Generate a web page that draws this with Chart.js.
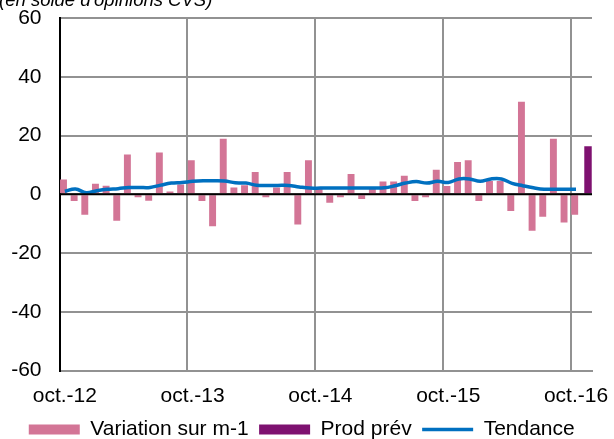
<!DOCTYPE html>
<html>
<head>
<meta charset="utf-8">
<script src="https://cdn.jsdelivr.net/npm/chart.js@4.4.1/dist/chart.umd.min.js"></script>
<style>
  html, body { margin: 0; padding: 0; background: #fff; }
  #wrap { width: 614px; height: 439px; position: relative; }
</style>
</head>
<body>
<div id="wrap"><canvas id="prodChart"></canvas></div>
<script>
// months, oct. 2012 -> nov. 2016
const months = [
  "oct.-12", "nov.-12", "déc.-12", "janv.-13", "févr.-13", "mars-13", "avr.-13", "mai-13", "juin-13", "juil.-13", "août-13", "sept.-13",
  "oct.-13", "nov.-13", "déc.-13", "janv.-14", "févr.-14", "mars-14", "avr.-14", "mai-14", "juin-14", "juil.-14", "août-14", "sept.-14",
  "oct.-14", "nov.-14", "déc.-14", "janv.-15", "févr.-15", "mars-15", "avr.-15", "mai-15", "juin-15", "juil.-15", "août-15", "sept.-15",
  "oct.-15", "nov.-15", "déc.-15", "janv.-16", "févr.-16", "mars-16", "avr.-16", "mai-16", "juin-16", "juil.-16", "août-16", "sept.-16",
  "oct.-16", "nov.-16"
];
const shownLabels = ["oct.-12", "oct.-13", "oct.-14", "oct.-15", "oct.-16"];

const variation = [
  5, -2.3, -7, 3.6, 2.9, -9, 13.5, -1, -2.2, 14.2, 0.9, 3.3,
  11.6, -2.3, -10.9, 18.9, 2.3, 3.1, 7.6, -1, 2.3, 7.6, -10.3, 11.6,
  2.3, -2.9, -1, 6.9, -1.6, 1.8, 4.3, 4.3, 6.3, -2.3, -1, 8.3,
  2.8, 11, 11.6, -2.3, 4.5, 4.5, -5.7, 31.5, -12.4, -7.7, 18.9, -9.6,
  -7, null
];
const prodPrev = [
  null, null, null, null, null, null, null, null, null, null, null, null,
  null, null, null, null, null, null, null, null, null, null, null, null,
  null, null, null, null, null, null, null, null, null, null, null, null,
  null, null, null, null, null, null, null, null, null, null, null, null,
  null, 16.3
];
const tendance = [
  1.0, 1.8, 0.5, 1.2, 1.7, 1.9, 2.3, 2.3, 2.3, 3.1, 3.8, 4.0,
  4.4, 4.6, 4.6, 4.5, 3.9, 3.8, 3.1, 3.0, 3.0, 3.0, 2.5, 2.1,
  2.1, 2.1, 2.1, 2.1, 2.1, 2.1, 2.2, 2.9, 3.8, 4.3, 3.8, 4.4,
  4.0, 5.2, 5.2, 4.4, 5.2, 5.2, 3.7, 2.9, 2.2, 1.7, 1.7, 1.7,
  1.7, null
];

const fontFamily = "'Liberation Sans', Arial, sans-serif";
const gridGrey = "#929292";

// zero line on top of the bars, subtitle cut at the top edge
const extras = {
  id: "extras",
  afterDatasetsDraw(chart) {
    const { ctx, chartArea, scales } = chart;
    const y0 = scales.y.getPixelForValue(0);
    ctx.save();
    ctx.strokeStyle = "#000";
    ctx.lineWidth = 2;
    ctx.beginPath();
    ctx.moveTo(chartArea.left, y0);
    ctx.lineTo(chartArea.right, y0);
    ctx.stroke();
    ctx.restore();
  },
  afterDraw(chart) {
    const ctx = chart.ctx;
    ctx.save();
    ctx.font = "italic 18.5px " + fontFamily;
    ctx.fillStyle = "#000";
    ctx.textBaseline = "alphabetic";
    ctx.fillText("(en solde d'opinions CVS)", -1, 6);
    ctx.restore();
  }
};

const ctx = document.getElementById("prodChart").getContext("2d");

new Chart(ctx, {
  type: "bar",
  data: {
    labels: months,
    datasets: [
      {
        label: "Variation sur m-1",
        data: variation,
        backgroundColor: "#D37596",
        borderWidth: 0,
        categoryPercentage: 0.5,
        barPercentage: 2.6,
        pointStyle: "rect",
        order: 1,
      },
      {
        label: "Prod prév",
        data: prodPrev,
        backgroundColor: "#7E1170",
        borderWidth: 0,
        categoryPercentage: 0.5,
        barPercentage: 2.8,
        pointStyle: "rect",
        order: 1,
      },
      {
        type: "line",
        label: "Tendance",
        data: tendance,
        borderColor: "#0070C0",
        backgroundColor: "#0070C0",
        borderWidth: 3.5,
        tension: 0.4,
        pointRadius: 0,
        pointStyle: "line",
        order: 0,
      },
    ],
  },
  options: {
    responsive: true,
    maintainAspectRatio: false,
    animation: false,
    layout: {
      padding: { left: 11.5, right: 22, top: 18, bottom: -11 },
    },
    plugins: {
      legend: {
        position: "bottom",
        labels: {
          usePointStyle: true,
          pointStyleWidth: 51,
          boxHeight: 10,
          padding: 10.5,
          color: "#000",
          font: { size: 21, family: fontFamily },
          sort: (a, b) => a.datasetIndex - b.datasetIndex,
        },
      },
      tooltip: { enabled: false },
    },
    scales: {
      x: {
        offset: true,
        afterFit: (scale) => { scale.height = 38; },
        grid: {
          offset: true,
          drawTicks: false,
          lineWidth: 2,
          color: (c) => (c.index > 0 && c.index < months.length - 1 && c.index % 12 === 0 ? gridGrey : "rgba(0,0,0,0)"),
        },
        border: { display: true, color: gridGrey, width: 2 },
        ticks: {
          autoSkip: false,
          maxRotation: 0,
          minRotation: 0,
          padding: 13,
          color: "#000",
          font: { size: 21, family: fontFamily },
          callback: function (value) {
            const lab = this.getLabelForValue(value);
            return shownLabels.includes(lab) ? lab : "";
          },
        },
      },
      y: {
        min: -60,
        max: 60,
        afterFit: (scale) => {
          scale.width = 48;
          scale.paddingTop = 0;
          scale.paddingBottom = 0;
        },
        grid: {
          drawTicks: false,
          lineWidth: 2,
          color: gridGrey,
        },
        border: { display: true, color: "#000", width: 2 },
        ticks: {
          stepSize: 20,
          padding: 18,
          color: "#000",
          font: { size: 21, family: fontFamily },
        },
      },
    },
  },
  plugins: [extras],
});
</script>
</body>
</html>
